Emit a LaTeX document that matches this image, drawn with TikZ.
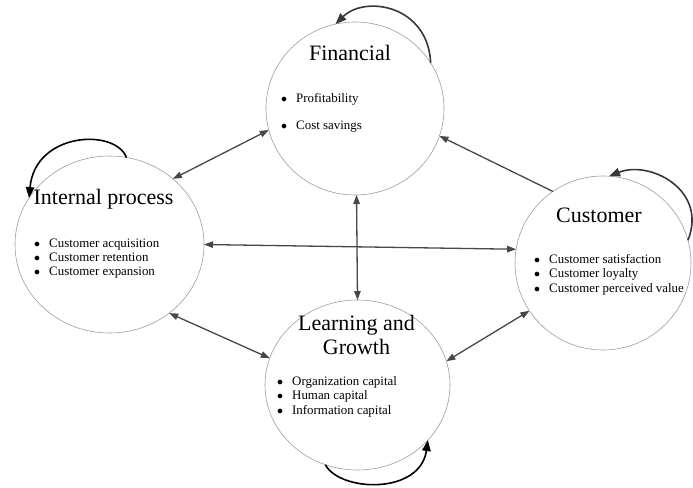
\documentclass[tikz,border=0pt]{standalone}
\usepackage{fontspec}
\setmainfont{Liberation Serif}
\usetikzlibrary{shapes.geometric,arrows.meta}

\newcommand{\listmark}{\makebox[15pt][l]{$\bullet$}}

\tikzset{
  persp/.style={ellipse, draw=black!38, line width=0.6pt, inner sep=0pt, outer sep=0pt},
  heading/.style={anchor=base, inner sep=0pt, font=\fontsize{22}{24}\selectfont},
  entry/.style={anchor=base west, inner sep=0pt, font=\fontsize{12.9}{14}\selectfont},
  tip/.tip={Triangle[length=9pt,width=6.5pt]},
  bigtip/.tip={Triangle[length=11pt,width=8.5pt]},
  link/.style={draw=black!72, line width=1.3pt, tip-tip},
  oneway/.style={draw=black!72, line width=1.3pt, -tip},
  selfgray/.style={draw=black!78, line width=1.6pt, -bigtip},
  selfblack/.style={draw=black, line width=1.6pt, -bigtip}
}

\begin{document}
\begin{tikzpicture}[x=1pt,y=1pt]
  \useasboundingbox[fill=white] (0,0) rectangle (693,-487);

  % the four perspectives
  \node[persp, minimum width=178pt, minimum height=173pt] (fin) at (355,-108.5) {};
  \node[persp, minimum width=189pt, minimum height=177pt] (int) at (109.5,-244.5) {};
  \node[persp, minimum width=176pt, minimum height=174pt] (cus) at (603,-263) {};
  \node[persp, minimum width=185pt, minimum height=170pt] (lrn) at (357.5,-385) {};

  % headings
  \node[heading] (fin-title) at (350,-61) {Financial};
  \node[heading] (int-title) at (103.5,-204) {Internal process};
  \node[heading] (cus-title) at (599,-222) {Customer};
  \node[heading] (lrn-title1) at (356.5,-330) {Learning and};
  \node[heading] (lrn-title2) at (356.5,-354) {Growth};

  % bullet lists
  \node[entry] (fin-i1) at (281,-102) {\listmark Profitability};
  \node[entry] (fin-i2) at (281,-129) {\listmark Cost savings};

  \node[entry] (int-i1) at (34,-247) {\listmark Customer acquisition};
  \node[entry] (int-i2) at (34,-261) {\listmark Customer retention};
  \node[entry] (int-i3) at (34,-275) {\listmark Customer expansion};

  \node[entry] (cus-i1) at (534,-263) {\listmark Customer satisfaction};
  \node[entry] (cus-i2) at (534,-277.5) {\listmark Customer loyalty};
  \node[entry] (cus-i3) at (534,-292) {\listmark Customer perceived value};

  \node[entry] (lrn-i1) at (277,-385) {\listmark Organization capital};
  \node[entry] (lrn-i2) at (277,-399.5) {\listmark Human capital};
  \node[entry] (lrn-i3) at (277,-414) {\listmark Information capital};

  % links between perspectives
  \draw[link] (fin.194) -- (int.46);
  \draw[oneway] (cus.125) -- (fin.342);
  \draw[link] (fin.271) -- (lrn.90);
  \draw[link] (int.0) -- (cus.171);
  \draw[link] (int.311) -- (lrn.163);
  \draw[link] (lrn.15) -- (cus.213);

  % self-reinforcing loops
  \draw[selfgray] (fin.31) .. controls (428,-5) and (365,5) .. (fin.103);
  \draw[selfblack] (int.79) .. controls (115,-128) and (35,-132) .. (int.150);
  \draw[selfgray] (cus.15) .. controls (708,-190) and (650,-160) .. (cus.86);
  \draw[selfblack] (lrn.248) .. controls (340,-492) and (420,-495) .. (lrn.322);
\end{tikzpicture}
\end{document}
